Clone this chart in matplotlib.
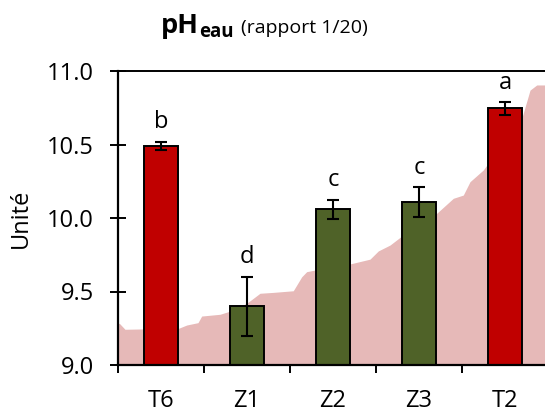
import numpy as np
import matplotlib
matplotlib.use("Agg")
import matplotlib.pyplot as plt

plt.rcParams['font.family'] = ['Open Sans', 'DejaVu Sans']

# data
categories = ["T6", "Z1", "Z2", "Z3", "T2"]
ph_means = [10.49, 9.40, 10.06, 10.11, 10.745]
ph_err = [0.03, 0.20, 0.065, 0.10, 0.043]
letters = ["b", "d", "c", "c", "a"]
bar_colors = ["#C00000", "#4F6228", "#4F6228", "#4F6228", "#C00000"]

# background silhouette behind the bars
bg_x = [-0.5, -0.485, -0.419, 0.206, 0.299, 0.430, 0.473, 0.686, 0.783, 0.997,
        1.151, 1.306, 1.538, 1.636, 1.694, 1.791, 2.217, 2.430, 2.527, 2.663,
        2.779, 3.206, 3.399, 3.515, 3.593, 3.748, 4.206, 4.291, 4.369, 4.5]
bg_y = [9.28, 9.284, 9.243, 9.25, 9.272, 9.288, 9.333, 9.345, 9.363, 9.42,
        9.488, 9.494, 9.505, 9.60, 9.635, 9.646, 9.69, 9.72, 9.776, 9.816,
        9.868, 10.032, 10.134, 10.156, 10.247, 10.327, 10.70, 10.87, 10.905, 10.905]

fig = plt.figure(figsize=(5.45, 4.13), dpi=100)
ax = fig.add_axes([118/545, 1 - 365/413, 430/545, (365 - 71)/413])

ax.fill_between(bg_x, 9.0, bg_y, color="#E6B9B8", linewidth=0, zorder=0)

x = np.arange(len(categories))
ax.bar(x, [m - 9.0 for m in ph_means], bottom=9.0, width=0.4, color=bar_colors,
       edgecolor="black", linewidth=1.4, zorder=2)
ax.errorbar(x, ph_means, yerr=ph_err, fmt="none", ecolor="black",
            elinewidth=1.5, capsize=4.2, capthick=1.5, zorder=3)

for xi, m, e, l in zip(x, ph_means, ph_err, letters):
    ax.text(xi, m + e + 0.05, l, ha="center", va="bottom", fontsize=17)

ax.set_xlim(-0.5, 4.5)
ax.set_ylim(9.0, 11.0)
ax.set_yticks([9.0, 9.5, 10.0, 10.5, 11.0])
ax.set_yticklabels(["9.0", "9.5", "10.0", "10.5", "11.0"], fontsize=17)
ax.tick_params(axis="y", direction="inout", length=11, width=1.4, pad=12)

ax.set_xticks([-0.5, 0.5, 1.5, 2.5, 3.5, 4.5])
ax.set_xticklabels([])
ax.set_xticks(x, minor=True)
ax.set_xticklabels(categories, minor=True, fontsize=17)
ax.tick_params(axis="x", which="major", direction="out", length=6, width=1.4)
ax.tick_params(axis="x", which="minor", length=0, pad=17)

ax.spines["right"].set_visible(False)
for s in ["left", "bottom"]:
    ax.spines[s].set_linewidth(1.6)
ax.spines["top"].set_linewidth(1.4)

ax.set_ylabel("Unité", fontsize=17, labelpad=10)

# title made of pieces: bold pH, bold subscript eau, normal remainder
renderer = fig.canvas.get_renderer()
t1 = fig.text(161/545, 1 - 33/413, "pH", fontsize=19.5, fontweight="bold", ha="left", va="baseline")
bb = t1.get_window_extent(renderer)
t2 = fig.text(bb.x1/545 + 0.001, 1 - 37/413, "eau", fontsize=13.5, fontweight="bold", ha="left", va="baseline")
bb2 = t2.get_window_extent(renderer)
fig.text(bb2.x1/545 + 0.012, 1 - 33/413, "(rapport 1/20)", fontsize=14, ha="left", va="baseline")

fig.savefig("out.png", dpi=100)
